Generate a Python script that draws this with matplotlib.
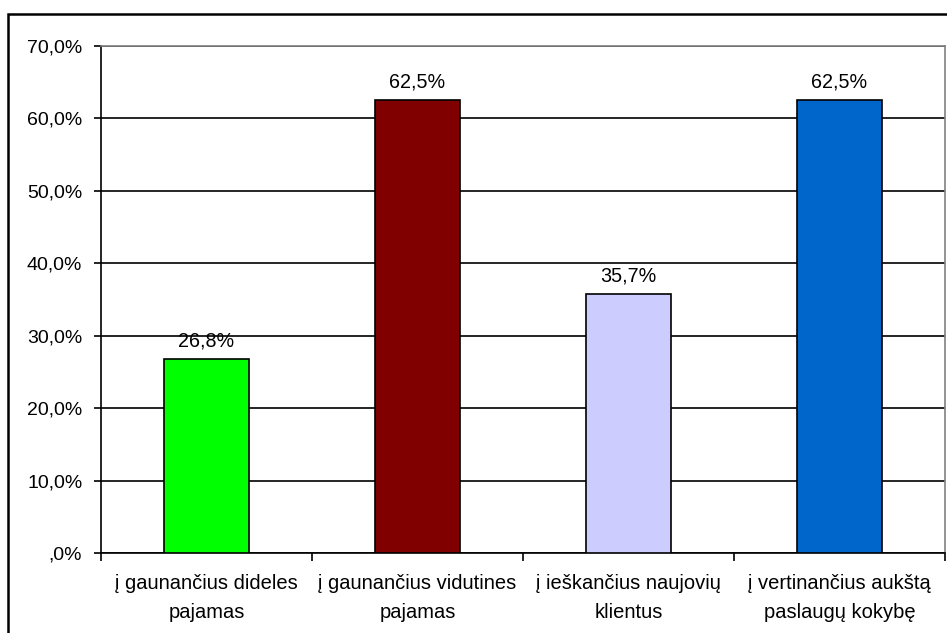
import matplotlib.pyplot as plt
from matplotlib.patches import Rectangle

categories = ['į gaunančius dideles\npajamas',
              'į gaunančius vidutines\npajamas',
              'į ieškančius naujovių\nklientus',
              'į vertinančius aukštą\npaslaugų kokybę']
values = [26.8, 62.5, 35.7, 62.5]
colors = ['#00FF00', '#800000', '#CCCCFF', '#0066CC']
yticks = [0, 10, 20, 30, 40, 50, 60, 70]
ytick_labels = [',0%', '10,0%', '20,0%', '30,0%', '40,0%', '50,0%', '60,0%', '70,0%']

plt.rcParams['font.family'] = ['Liberation Sans', 'DejaVu Sans']

W, H = 947, 633
fig = plt.figure(figsize=(W / 100, H / 100), dpi=100)
ax = fig.add_axes([101 / W, 1 - 553 / H, 844 / W, 507 / H])

x = list(range(len(values)))
bars = ax.bar(x, values, width=0.4, color=colors, edgecolor='black', linewidth=1.2, zorder=3)
for b, v in zip(bars, values):
    ax.text(b.get_x() + b.get_width() / 2, v + 1.2, f'{v:.1f}%'.replace('.', ','),
            ha='center', va='bottom', fontsize=14.2, zorder=4)

ax.set_xlim(-0.5, len(values) - 0.5)
ax.set_ylim(0, 70)
ax.set_yticks(yticks)
ax.set_yticklabels(ytick_labels, fontsize=14)
ax.yaxis.grid(True, color='black', linewidth=1.2, zorder=0)

# category boundaries get tick marks, centers get the labels
ax.set_xticks([i - 0.5 for i in range(len(values) + 1)])
ax.set_xticklabels([])
ax.set_xticks(x, minor=True)
ax.set_xticklabels(categories, minor=True, fontsize=14.5, linespacing=1.65)
ax.tick_params(axis='x', which='minor', length=0, pad=15)
ax.tick_params(axis='x', which='major', length=6, width=1.2, direction='out')
ax.tick_params(axis='y', length=5, width=1.2, pad=8.5)

for side in ['top', 'right']:
    ax.spines[side].set_color('#808080')
    ax.spines[side].set_linewidth(1.2)
for side in ['left', 'bottom']:
    ax.spines[side].set_color('black')
    ax.spines[side].set_linewidth(1.2)

# outer chart border
fig.patches.append(Rectangle((7.5 / W, -0.05), 1.1, 1 - 14 / H + 0.05,
                             transform=fig.transFigure, fill=False,
                             edgecolor='black', linewidth=1.8))

fig.savefig('out.png', dpi=100)
